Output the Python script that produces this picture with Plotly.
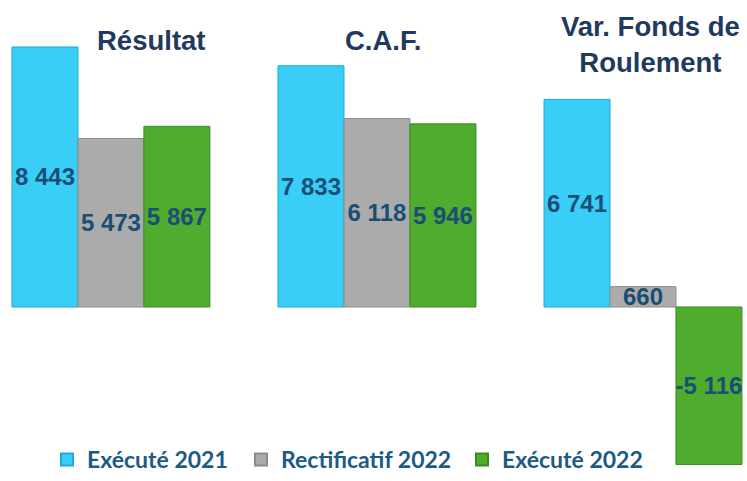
import plotly.graph_objects as go

groups = ["Résultat", "C.A.F.", "Var. Fonds de<br>Roulement"]
series_names = ["Exécuté 2021", "Rectificatif 2022", "Exécuté 2022"]
executed_2021 = [8443, 7833, 6741]
rectificatif_2022 = [5473, 6118, 660]
executed_2022 = [5867, 5946, -5116]
colors = ["#38CEF8", "#ABABAB", "#4FAC2E"]
edge_colors = ["#1FA9D6", "#8C8C8C", "#3A8A20"]
legend_ids = ["legend", "legend2", "legend3"]
legend_left_px = [47, 241, 462]

def fmt(v):
    s = f"{abs(v):,}".replace(",", " ")
    return ("-" if v < 0 else "") + s

x = [0, 1, 2]
fig = go.Figure()
for name, vals, c, ec, lg in zip(series_names, [executed_2021, rectificatif_2022, executed_2022],
                                 colors, edge_colors, legend_ids):
    fig.add_trace(go.Bar(
        x=x, y=vals, name=name, legend=lg,
        marker=dict(color=c, line=dict(color=ec, width=1)),
        text=[fmt(v) for v in vals],
        textposition="inside", insidetextanchor="middle", textangle=0,
        textfont=dict(family="Liberation Sans, Arial", size=24, color="#1A4E74", weight="bold"),
        cliponaxis=False,
    ))

title_pos = [(151, 40), (383, 40), (650, 45)]
for g, (px, py) in zip(groups, title_pos):
    fig.add_annotation(
        x=px / 747, y=1 - py / 481, xref="paper", yref="paper",
        text=f"<b>{g}</b>", showarrow=False,
        font=dict(family="Liberation Sans, Arial", size=27.5, color="#1F3A5C"),
        xanchor="center", yanchor="middle",
    )

legend_style = dict(
    orientation="h", xanchor="left", y=0, yanchor="bottom",
    font=dict(family="Lato", size=23, color="#1A5A85", weight="bold"),
    bgcolor="rgba(0,0,0,0)", itemsizing="constant",
)

fig.update_layout(
    width=747, height=481,
    margin=dict(l=0, r=0, t=0, b=0),
    paper_bgcolor="white", plot_bgcolor="white",
    barmode="group", bargap=0.256, bargroupgap=0,
    uniformtext=dict(minsize=24, mode="show"),
    xaxis=dict(range=[-0.417, 2.391], visible=False, fixedrange=True),
    yaxis=dict(range=[-5650, 9968], visible=False, fixedrange=True),
    showlegend=True,
    legend=dict(x=legend_left_px[0] / 747, **legend_style),
    legend2=dict(x=legend_left_px[1] / 747, **legend_style),
    legend3=dict(x=legend_left_px[2] / 747, **legend_style),
)

fig.write_html(
    "out.html",
    config={"displayModeBar": False},
    post_script="document.body.style.margin='0';document.body.style.overflow='hidden';",
)
